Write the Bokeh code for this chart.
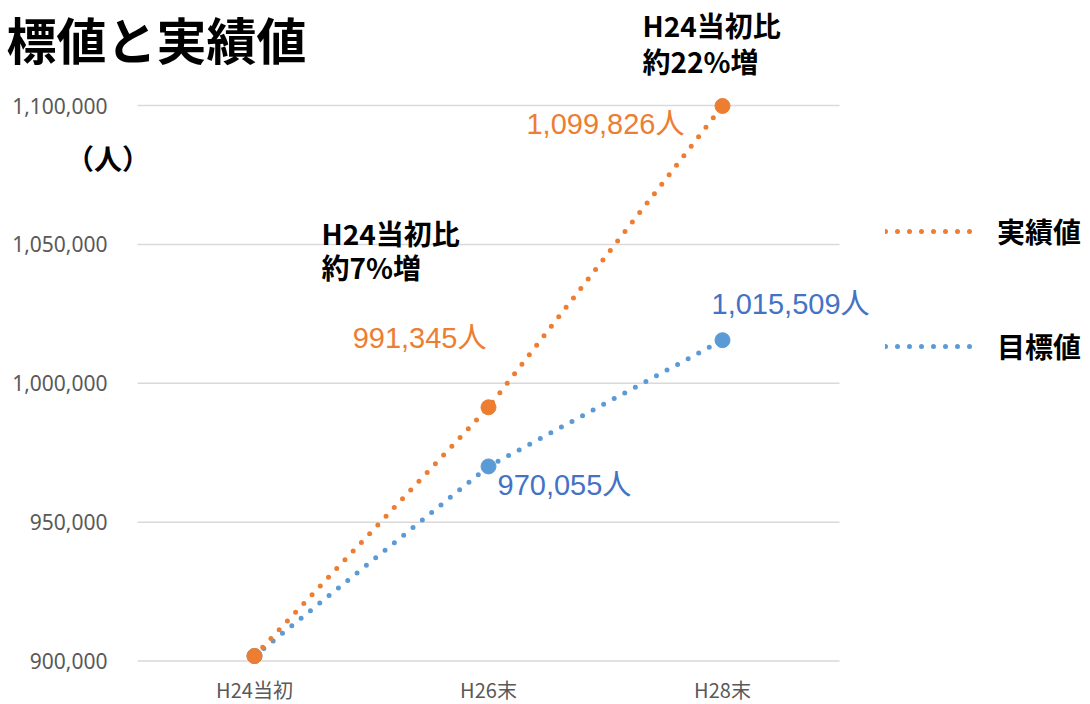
from bokeh.plotting import figure
from bokeh.models import Range1d, Label, Legend, LegendItem
from bokeh.core.properties import value
from bokeh.embed import file_html
from bokeh.resources import INLINE

# ---------------- data ----------------
categories = ["H24当初", "H26末", "H28末"]
actual = [901800, 991345, 1099826]     # 実績値
target = [901800, 970055, 1015509]     # 目標値
y_ticks = [900000, 950000, 1000000, 1050000, 1100000]
y_tick_labels = [f"{v:,}" for v in y_ticks]
series_names = ["実績値", "目標値"]
title_text = "標値と実績値"
unit_text = "（人）"
note_7 = ["H24当初比", "約7%増"]
note_22 = ["H24当初比", "約22%増"]

ORANGE = "#ED7D31"
BLUE = "#5B9BD5"
BLUE_TXT = "#4472C4"
GRID = "#d9d9d9"
TICK = "#595959"
CJK = "Noto Sans CJK JP"
NUM = "Liberation Sans, Noto Sans CJK JP"

# ---------------- geometry (canvas px) ----------------
W, H = 1090, 704
PL, PR = 137, 839                  # plot-area left / right
G900, G1100 = 660.5, 105.0         # rows of the lowest / highest gridline
n = len(categories)
xs = [i + 0.5 for i in range(n)]   # categorical slots
ppx = (PR - PL) / n
s = (G900 - G1100) / (y_ticks[-1] - y_ticks[0])

def dx(ix):
    return (ix - PL) / ppx

def dy(iy):
    return y_ticks[0] + (G900 - iy) / s

p = figure(width=W, height=H,
           x_range=Range1d(dx(0), dx(W)), y_range=Range1d(dy(H), dy(0)),
           x_axis_location=None, y_axis_location=None,
           output_backend="svg", toolbar_location=None,
           min_border=0, min_border_left=0, min_border_right=0,
           min_border_top=0, min_border_bottom=0)
p.outline_line_color = None
p.background_fill_color = "white"
p.border_fill_color = "white"
p.grid.visible = False

# gridlines across the plot area
p.segment(x0=0, x1=n, y0=y_ticks, y1=y_ticks, line_color=GRID, line_width=1.5)

# y tick labels
p.text(x=dx(107), y=y_ticks, text=y_tick_labels, text_align="right", text_baseline="middle",
       text_color=TICK, text_font=value("Noto Sans"), text_font_size=value("21px"))
# x tick labels
p.text(x=xs, y=dy(689), text=categories, text_align="center", text_baseline="middle",
       text_color=TICK, text_font=value(CJK), text_font_size=value("20px"))

# series
line_t = p.line(x=xs, y=target, line_color=BLUE, line_width=5, line_dash="0 12", line_cap="round")
p.scatter(x=xs, y=target, size=15, color=BLUE)
line_a = p.line(x=xs, y=actual, line_color=ORANGE, line_width=5, line_dash="0 12", line_cap="round")
p.scatter(x=xs, y=actual, size=15, color=ORANGE)

# legend
row_h = 40
row1, row2 = 231, 346
legend = Legend(items=[LegendItem(label=series_names[0], renderers=[line_a]),
                       LegendItem(label=series_names[1], renderers=[line_t])],
                location=(885, int(H - (row2 + row_h / 2))),
                orientation="vertical", glyph_width=93, glyph_height=row_h,
                label_height=row_h, label_standoff=19, spacing=int(row2 - row1 - row_h),
                padding=0, margin=0, border_line_color=None, background_fill_alpha=0,
                label_text_font=CJK, label_text_font_size="28px",
                label_text_font_style="bold", label_text_color="black")
p.add_layout(legend)

def add_label(text, ix, iy, color="black", size="28px", font=CJK, style="bold", align="left"):
    p.add_layout(Label(x=dx(ix), y=dy(iy), text=text, text_align=align,
                       text_baseline="middle", text_color=color, text_font=font,
                       text_font_size=size, text_font_style=style))

# title and notes
add_label(title_text, 6, 37, size="50px")
add_label(unit_text, 107.5, 157, size="28px", align="center")
add_label(note_22[0], 642, 24)
add_label(note_22[1], 642, 60)
add_label(note_7[0], 321, 232)
add_label(note_7[1], 321, 266)

# data labels
add_label(f"{actual[2]:,}人", 684, 123, color=ORANGE, size="29px", font=NUM, style="normal", align="right")
add_label(f"{actual[1]:,}人", 486, 337, color=ORANGE, size="29px", font=NUM, style="normal", align="right")
add_label(f"{target[2]:,}人", 711, 303, color=BLUE_TXT, size="29px", font=NUM, style="normal")
add_label(f"{target[1]:,}人", 497, 484, color=BLUE_TXT, size="29px", font=NUM, style="normal")

open("out.html", "w").write(file_html(p, INLINE))
